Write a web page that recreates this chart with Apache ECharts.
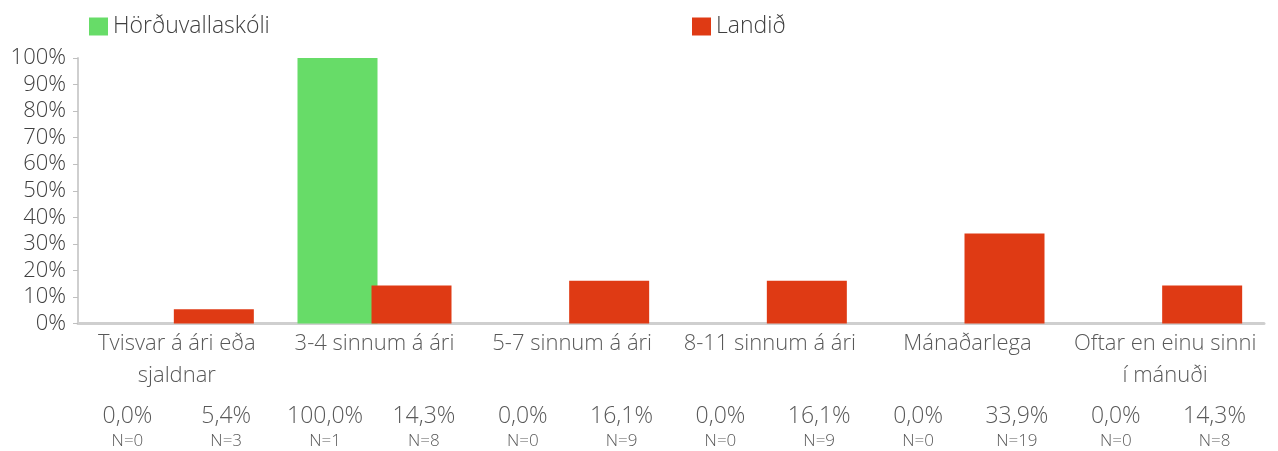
<!DOCTYPE html>
<html style="height: 100%">
<head>
<meta charset="utf-8">
</head>
<body style="height: 100%; margin: 0; background: #fff">
<div id="container" style="width: 1278px; height: 451px"></div>
<script src="https://cdn.jsdelivr.net/npm/echarts@6/dist/echarts.min.js"></script>
<script>
// data
const categories = [
  'Tvisvar á ári eða\nsjaldnar',
  '3-4 sinnum á ári',
  '5-7 sinnum á ári',
  '8-11 sinnum á ári',
  'Mánaðarlega',
  'Oftar en einu sinni\ní mánuði'
];
const schoolName = 'Hörðuvallaskóli';
const countryName = 'Landið';
const schoolPct = [0.0, 100.0, 0.0, 0.0, 0.0, 0.0];
const countryPct = [5.4, 14.3, 16.1, 16.1, 33.9, 14.3];
const schoolN = [0, 1, 0, 0, 0, 0];
const countryN = [3, 8, 9, 9, 19, 8];

const FONT = '"Open Sans", Lato, sans-serif';
const W = 300;
const fmt = v => v.toFixed(1).replace('.', ',') + '%';

var myChart = echarts.init(document.getElementById('container'));

var option = {
  animation: false,
  textStyle: { fontFamily: FONT },
  legend: [
    {
      left: 84, top: 10,
      data: [schoolName],
      itemWidth: 19, itemHeight: 18,
      icon: 'rect',
      textStyle: { fontSize: 23, color: '#404040', fontFamily: FONT, fontWeight: W }
    },
    {
      left: 687, top: 10,
      data: [countryName],
      itemWidth: 19, itemHeight: 18,
      icon: 'rect',
      textStyle: { fontSize: 23, color: '#404040', fontFamily: FONT, fontWeight: W }
    }
  ],
  grid: { left: 78, right: 14, top: 58, bottom: 127.5, containLabel: false },
  xAxis: {
    type: 'category',
    data: categories,
    axisLine: { lineStyle: { color: '#cfcfcf', width: 3 } },
    axisTick: { show: false },
    axisLabel: {
      interval: 0,
      margin: 4,
      color: '#595959',
      fontFamily: FONT,
      formatter: function (value, idx) {
        var lines = value.split('\n');
        if (lines.length < 2) lines.push(' ');
        return '{c|' + lines[0] + '}\n{c|' + lines[1] + '}\n' +
          '{p|' + fmt(schoolPct[idx]) + '}{p|' + fmt(countryPct[idx]) + '}\n' +
          '{n|N=' + schoolN[idx] + '}{n|N=' + countryN[idx] + '}';
      },
      rich: {
        c: { fontSize: 22, lineHeight: 32, color: '#595959', fontFamily: FONT, fontWeight: W },
        p: { fontSize: 23, lineHeight: 36, width: 98.75, align: 'center', verticalAlign: 'bottom', color: '#595959', fontFamily: FONT, fontWeight: W },
        n: { fontSize: 17, lineHeight: 28, width: 98.75, align: 'center', color: '#595959', fontFamily: FONT, fontWeight: W }
      }
    }
  },
  yAxis: {
    type: 'value',
    min: 0, max: 100, interval: 10,
    axisLine: { show: true, lineStyle: { color: '#cfcfcf', width: 2 } },
    axisTick: { show: true, length: 5, lineStyle: { color: '#bfbfbf' } },
    splitLine: { show: false },
    axisLabel: {
      margin: 12,
      fontSize: 22,
      color: '#404040',
      fontFamily: FONT,
      fontWeight: W,
      formatter: '{value}%'
    }
  },
  series: [
    {
      name: schoolName,
      type: 'bar',
      data: schoolPct,
      barWidth: 80,
      barGap: '-7.5%',
      itemStyle: { color: '#67dc68' }
    },
    {
      name: countryName,
      type: 'bar',
      data: countryPct,
      barWidth: 80,
      itemStyle: { color: '#df3a14' }
    }
  ]
};

myChart.setOption(option);
</script>
</body>
</html>
